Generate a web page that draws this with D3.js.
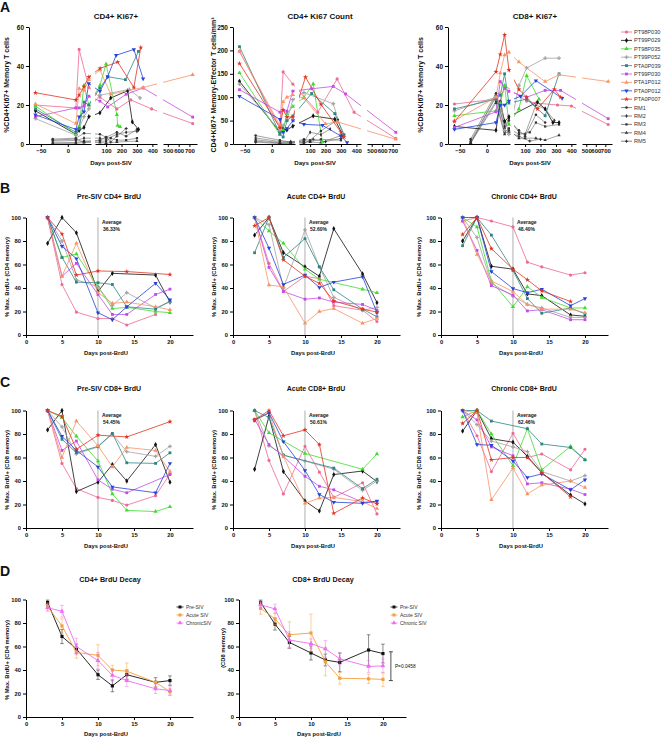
<!DOCTYPE html>
<html>
<head>
<meta charset="utf-8">
<script src="https://cdn.jsdelivr.net/npm/d3@7"></script>
<style>
  body { margin: 0; background: #fff; }
  svg { font-family: "Liberation Sans", Arial, sans-serif; }
</style>
</head>
<body>
<div id="chart"></div>
<script>
// ---------- data ----------
const animals = ["PT98P030", "PT99P029", "PT98P035", "PT99P052", "PTA0P039", "PT99P030", "PTA1P012", "PTA0P012", "PTA0P007", "RM1", "RM2", "RM3", "RM4", "RM5"];
const animalColors = ["#ec6a93", "#111111", "#3fdc2f", "#a3a3a3", "#2f8585", "#c54ce6", "#f79365", "#2543d8", "#e2331f", "#333333", "#333333", "#333333", "#333333", "#333333"];
const animalSymbols = ["circle", "diamond", "triangle", "cross", "square", "square", "triangle", "triangleDown", "star", "circle", "diamond", "square", "triangle", "cross"];

// panel A : [day post-SIV, value] per animal (same order as animals)
const ki67CD4Pct = [
  [[-60, 20], [15, 18.5], [21, 48.5], [39, 29], [60, 24], [170, 18], [260, 22.6], [395, 18], [730, 10.5]],
  [[-60, 17], [15, 5], [21, 7], [30, 8.5], [39, 14], [60, 16], [130, 23.6], [240, 27.3], [270, 11.3], [310, 7.5]],
  [[-60, 19.5], [15, 5], [21, 9], [30, 30], [39, 20], [60, 30], [100, 41], [170, 15], [175, 9.5], [190, 8.8]],
  [[-60, 13], [15, 4.5], [21, 8], [30, 14], [39, 18], [60, 25], [250, 28], [320, 23.6]],
  [[-60, 18], [15, 6], [21, 8], [30, 21.5], [39, 20], [60, 28.6], [110, 34.5], [225, 33], [310, 47.5]],
  [[-60, 14], [15, 18.5], [21, 18.5], [30, 19.5], [39, 24.5], [60, 22], [110, 19], [230, 25.5], [340, 28.7], [730, 13.8]],
  [[-60, 20.5], [15, 10.5], [21, 28.5], [30, 27.5], [39, 33], [60, 38], [130, 25.5], [340, 29], [730, 35.5]],
  [[-60, 15], [15, 7.5], [21, 14], [30, 16.5], [39, 31], [60, 27], [110, 34.5], [165, 45.5], [280, 48.5], [340, 33.5]],
  [[-60, 26.3], [15, 22.6], [21, 25], [30, 29.5], [39, 34.4], [61, 38.8], [175, 42], [280, 29], [325, 49.5]],
  [[-28, 2.5], [15, 3], [30, 5.5], [60, 5], [100, 3.5], [170, 6], [230, 4], [300, 7.5]],
  [[-28, 1.5], [15, 1.8], [30, 3], [60, 3], [100, 2.5], [170, 5], [230, 6], [300, 6.5]],
  [[-28, 0.6], [15, 0.8], [30, 1.5], [60, 1.5], [100, 1.5], [130, 3], [170, 2], [230, 2], [300, 3]],
  [[-28, 0.3], [15, 0.3], [30, 0.8], [60, 0.8], [100, 0.5], [170, 1], [300, 1.5]],
  [[-28, 2], [15, 2.5], [30, 1], [60, 2], [100, 3.5], [130, 1], [170, 4], [230, 8]]
];
const ki67CD4Count = [
  [[-60, 198], [15, 35], [21, 154], [39, 128], [150, 68], [275, 139], [385, 68], [730, 12]],
  [[-60, 134], [15, 25], [21, 32], [28, 30], [39, 38], [120, 60], [260, 53], [310, 20]],
  [[-60, 152], [15, 20], [21, 30], [28, 65], [39, 80], [60, 100], [120, 128], [180, 4]],
  [[-60, 128], [15, 28], [21, 40], [28, 50], [39, 95], [60, 110], [250, 86], [310, 22]],
  [[-60, 208], [15, 22], [21, 15], [28, 50], [39, 60], [110, 108], [260, 65], [320, 20]],
  [[-60, 116], [15, 68], [21, 72], [28, 70], [39, 113], [110, 118], [250, 123], [330, 107], [730, 25]],
  [[-60, 198], [15, 40], [21, 90], [28, 100], [39, 105], [60, 98], [200, 43], [280, 47], [730, 10]],
  [[-60, 102], [15, 53], [21, 25], [28, 33], [39, 50], [60, 42], [180, 40], [300, 17], [340, 3]],
  [[-60, 172], [15, 35], [21, 73], [28, 58], [39, 57], [70, 143], [170, 85], [300, 25], [320, 15]],
  [[-30, 18], [15, 8], [35, 4], [60, 10], [100, 8], [170, 28], [280, 52]],
  [[-30, 13], [15, 5], [35, 5], [60, 5], [100, 25], [170, 20], [230, 32]],
  [[-30, 9], [15, 3], [35, 2], [60, 3], [100, 5], [170, 10], [300, 8]],
  [[-30, 6], [15, 2], [35, 1], [60, 8], [100, 4], [170, 3], [300, 18]],
  [[-30, 4], [15, 1], [35, 3], [60, 2], [120, 10], [200, 5], [300, 12]]
];
const ki67CD8Pct = [
  [[-60, 20.5], [17, 23], [25, 22], [33, 30], [110, 22], [170, 21], [310, 20], [400, 19.5], [730, 10]],
  [[-60, 9], [17, 7], [25, 21.5], [33, 11.5], [41, 14], [180, 21.5], [230, 18], [280, 11], [320, 11]],
  [[-60, 14.5], [17, 17], [25, 21], [33, 30], [41, 10], [60, 18], [110, 35], [190, 23]],
  [[-60, 17], [17, 24], [25, 26], [33, 7], [41, 5], [60, 30], [110, 39], [230, 44], [320, 44]],
  [[-60, 18], [17, 23], [25, 25], [33, 36], [41, 21], [110, 23], [230, 14.5], [320, 36]],
  [[-60, 8.5], [17, 16.5], [25, 32], [33, 28.5], [41, 27], [110, 24], [230, 27.5], [330, 27.5], [730, 13]],
  [[-60, 12], [17, 24], [25, 36.4], [33, 45.7], [41, 47], [60, 42], [230, 32], [320, 35.5], [730, 32]],
  [[-60, 7.5], [17, 11], [25, 20], [33, 20], [41, 22], [70, 24.5], [170, 32.5], [340, 23.5]],
  [[-60, 11.5], [17, 37], [25, 46], [33, 56], [41, 38], [60, 28], [110, 24], [180, 18], [290, 28], [330, 24]],
  [[-30, 2.5], [17, 26], [33, 8], [41, 12], [60, 7], [100, 4], [170, 15], [230, 11]],
  [[-30, 1.5], [17, 24], [33, 9], [41, 13], [60, 6], [100, 5], [170, 20], [230, 18], [290, 12]],
  [[-30, 1], [17, 22], [33, 6], [41, 8], [60, 5], [130, 6], [170, 11], [230, 9], [320, 10]],
  [[-30, 0.5], [17, 21], [33, 5], [41, 7], [60, 3], [100, 3], [170, 3], [230, 2], [320, 4.5]],
  [[-30, 0.2], [17, 25], [33, 12], [41, 6], [60, 4], [130, 1.5], [200, 2.5]]
];

// panels B, C : % max BrdU+ at these days, one row per animal (first 9 animals)
const brduDays = [3, 5, 7, 10, 12, 14, 18, 20];
const preCD4 = [
  [100, 43, 19.5, 14, 14, 8.5, 17.5, null],
  [78, 100, 87, 37, 52.5, null, 51, 28],
  [100, 66, 69, 41, 22.5, 23.5, 20, 19],
  [100, 80, 47, 41, 25, 36, 23, 28],
  [100, 66, 45, 44.5, 43, 24, 22, 29],
  [100, 50, 61, 34.5, 17.5, 17.5, 34.5, 39],
  [100, 50, 78, 36, 27, 28, 24, 21.5],
  [100, 75.5, 65, 19, 13, 24, 44, 30],
  [100, 86, 51, 54.5, null, 54, null, 51.5]
];
const acuteCD4 = [
  [100, 61, 37, 50, 48, 25, 21, 11.5],
  [85, 100, 70, 58, 50, 90.5, 52, 27.5],
  [100, 88.5, 78, 56, 47.5, null, 39, 36],
  [100, 94, 40, 89.5, 58, 32, 21, 23.5],
  [70, 100, 66, 82, 58, 38.5, 22, 15.5],
  [100, 57.5, 37, 30.5, 31.5, 28, 26, 21],
  [100, 42.5, 41, 10, 20, 22.5, 10, 14],
  [100, 74, 43, 51, 40.5, 45, 49.5, 19],
  [93, 100, 64, 50, 44, 29, 22, 19.5]
];
const chronicCD4 = [
  [97, 100, 97, 92, 62, 58, 51, 53],
  [80, 100, 58.5, 56, 35, 33.5, 17, 16],
  [100, 92, 46, 24, 41, 32, 23, 23],
  [100, 83, 44, 33, 26, 23, 15, 15],
  [76, 100, 85, 55, 31, 18.5, 23, 18],
  [97, 72, 42, 34, 20.5, 21.5, 13, 13],
  [100, 68.5, 46, 37, 26, 22, 22, 19],
  [100, 100, 54, 39.5, 36, 39, 25, 31],
  [85.5, 100, 73.5, 56, 47, 37.5, 28.5, null]
];
const preCD8 = [
  [100, 55, 33.5, 26, 23.5, 19.5, 27.5, 46],
  [83.5, 100, 31, 39, 54, 40, 71, 39],
  [100, 94, 78, 57, 29, 15, 14, 18],
  [100, 86, 63, 69, 80, 65, 61, 69.5],
  [100, 75.5, 64, 69.5, 80.5, 55.5, 55, 64],
  [100, 66, 74, 41, 33, 30, null, 45.5],
  [100, 60, 91, 70, 52, 68.5, 66, 48],
  [100, 78, 66, 52, 35, null, 30, 55],
  [100, 95, 67, 79, null, 77.5, null, 90.5]
];
const acuteCD8 = [
  [100, 57.5, 29, 69.5, 47.5, 26, 38.5, 12],
  [50, 95, 48, 23, 14.5, 45.5, 48.5, 39.5],
  [100, 81, null, 63.5, null, null, 50, 63],
  [100, 70, 62, 57, null, 50, 32, 40],
  [100, 94, 62, null, null, 51, 33.5, 41.5],
  [92.5, 71, 61, 44, 35.5, 32.5, 22, 22.5],
  [91, 98, 61, 21, 25.5, 26, 22.5, 16.5],
  [92, 98, 73.5, 49, 28.5, 22, 21, 23],
  [92, 100, 78.5, 83.5, 71, 12.5, 25.5, 20.5]
];
const chronicCD8 = [
  [100, 78.5, 48, 80.5, 60, 63, 49.5, 67],
  [82.5, 100, 76, 73, 61, 47, 28, 20.5],
  [94.5, 100, 80, 53, 84.5, 49.5, 69.5, 58],
  [100, 88, 74, 69, 65, 48, 40, 44.5],
  [100, 100, 91, null, 84.5, 71.5, 68.5, 58],
  [100, 92, 69, 61.5, 37.5, 38.5, 33, 28.5],
  [100, 98, 24, 51, 29, 36.5, 40, 34.5],
  [100, 71, 70.5, 57, 43, 46, 32.5, 41],
  [89, 100, 58, 60, 60, 47, 26.5, null]
];

// panel D : mean and error per phase
const phases = ["Pre-SIV", "Acute SIV", "Chronic SIV"];
const phaseColors = ["#111111", "#f3a03c", "#ee6ef0"];
const phaseSymbols = ["square", "square", "triangle"];
const decayCD4Mean = [
  [97.5, 68.5, 58, 36, 26.5, 36, 29.5, 31],
  [94, 77.5, 55, 52.5, 40, 39, 29.5, 21.5],
  [93, 90, 60, 48, 35.5, 31, 24, 22.5]
];
const decayCD4Err = [
  [2, 6, 4, 4, 5, 4, 4, 4],
  [3, 6, 5, 9, 4, 7, 4, 3],
  [3, 5, 7, 7, 5, 5, 4, 4]
];
const decayCD8Mean = [
  [97.5, 79, 63.5, 54.5, 48.5, 46.5, 57, 54],
  [92.5, 83.5, 70, 71.5, 47, 33, 32.5, 32],
  [95.5, 92, 65.5, 62.5, 58, 49.5, 43, 43.5]
];
const decayCD8Err = [
  [2, 5, 5, 6, 5, 8, 13, 8],
  [5, 5, 11, 16, 12, 5, 4, 6],
  [3, 4, 7, 4, 7, 5, 5, 6]
];

// ---------- drawing ----------
const FONT = '"Liberation Sans", Arial, sans-serif';
const svg = d3.select("#chart").append("svg")
  .attr("width", 664).attr("height", 739)
  .style("background", "#fff");

function symbolPath(type, size) {
  let t = d3.symbolCircle;
  if (type === "square") t = d3.symbolSquare;
  if (type === "diamond") t = d3.symbolDiamond;
  if (type === "triangle" || type === "triangleDown") t = d3.symbolTriangle;
  if (type === "cross") t = d3.symbolCross;
  if (type === "star") t = d3.symbolStar;
  return d3.symbol().type(t).size(size)();
}

function drawMarkers(g, pts, type, color, size) {
  g.selectAll(null).data(pts).enter().append("path")
    .attr("d", symbolPath(type, size))
    .attr("transform", d => `translate(${d[0]},${d[1]}) rotate(${type === "triangleDown" ? 180 : 0})`)
    .attr("fill", color);
}

function styleAxis(sel, fs) {
  sel.attr("font-family", FONT);
  sel.select(".domain").attr("stroke", "#000").attr("stroke-width", 1);
  sel.selectAll(".tick line").attr("stroke", "#000");
  sel.selectAll(".tick text").attr("fill", "#111").attr("font-size", fs).attr("font-weight", "bold");
}

function text(x, y, str, opts) {
  const t = svg.append("text").attr("x", x).attr("y", y).text(str)
    .attr("font-size", opts.size).attr("font-weight", opts.weight || "bold")
    .attr("text-anchor", opts.anchor || "middle").attr("fill", opts.fill || "#111");
  return t;
}

function yLabel(x, cy, str, size) {
  svg.append("text")
    .attr("transform", `translate(${x},${cy}) rotate(-90)`)
    .attr("dy", "0.35em")
    .attr("text-anchor", "middle")
    .attr("font-size", size).attr("font-weight", "bold").attr("fill", "#111")
    .text(str);
}

// panel letters
[["A", 12], ["B", 193], ["C", 387], ["D", 576]].forEach(([l, yy]) => {
  text(0, yy, l, { size: 14, anchor: "start" });
});

// ---- Panel A : broken x axis ----
function ki67Panel(cfg) {
  const top = 27, bottom = 144;
  const segs = [
    { d: [-72, 43], r: [0, 62], ticks: [-50, 0] },
    { d: [28, 430], r: [66, 128], ticks: [100, 200, 300, 400] },
    { d: [455, 770], r: [134, cfg.w], ticks: [500, 600, 700] }
  ];
  const sx = segs.map(s => d3.scaleLinear().domain(s.d).range([cfg.x0 + s.r[0], cfg.x0 + s.r[1]]));
  const x = d => d <= 43 ? sx[0](d) : d <= 440 ? sx[1](d) : sx[2](d);
  const y = d3.scaleLinear().domain([0, cfg.yMax]).range([bottom, top]);

  const clipId = "clip" + cfg.id;
  const cp = svg.append("clipPath").attr("id", clipId);
  segs.forEach((s, i) => {
    cp.append("rect").attr("x", sx[i].range()[0]).attr("y", 0)
      .attr("width", sx[i].range()[1] - sx[i].range()[0]).attr("height", 160);
  });

  const line = d3.line().x(d => x(d[0])).y(d => y(d[1]));
  const lg = svg.append("g").attr("clip-path", `url(#${clipId})`);
  const mg = svg.append("g");
  // RM animals first (behind)
  const order = [9, 10, 11, 12, 13, 0, 1, 2, 3, 4, 5, 6, 7, 8];
  order.forEach(i => {
    const rm = i >= 9;
    lg.append("path").attr("d", line(cfg.data[i]))
      .attr("fill", "none")
      .attr("stroke", rm ? "#666" : animalColors[i])
      .attr("stroke-width", rm ? 0.6 : 0.8);
    drawMarkers(mg, cfg.data[i].map(d => [x(d[0]), y(d[1])]),
      animalSymbols[i], animalColors[i], rm ? 5 : 8);
  });

  const ya = svg.append("g").attr("transform", `translate(${cfg.x0},0)`)
    .call(d3.axisLeft(y).tickValues(cfg.yTicks).tickSize(3).tickSizeOuter(0).tickPadding(2));
  styleAxis(ya, 6.5);
  segs.forEach((s, i) => {
    const xa = svg.append("g").attr("transform", `translate(0,${bottom})`)
      .call(d3.axisBottom(sx[i]).tickValues(s.ticks).tickSize(3).tickSizeOuter(0).tickPadding(2));
    styleAxis(xa, 6);
  });

  text(cfg.x0 + 87, 19, cfg.title, { size: 8 });
  text(cfg.x0 + 82, 165, "Days post-SIV", { size: 6.2 });
  yLabel(cfg.labelX, 85, cfg.ylabel, 7);
}

ki67Panel({ id: "a1", x0: 29, w: 168, yMax: 60, yTicks: [0, 20, 40, 60], data: ki67CD4Pct,
  title: "CD4+ Ki67+", ylabel: "%CD4+Ki67+ Memory T cells", labelX: 7 });
ki67Panel({ id: "a2", x0: 233, w: 167, yMax: 250, yTicks: [0, 50, 100, 150, 200, 250], data: ki67CD4Count,
  title: "CD4+ Ki67 Count", ylabel: "CD4+Ki67+ Memory-Effector T cells/mm³", labelX: 214 });
ki67Panel({ id: "a3", x0: 448, w: 164, yMax: 60, yTicks: [0, 20, 40, 60], data: ki67CD8Pct,
  title: "CD8+ Ki67+", ylabel: "%CD8+Ki67+ Memory T cells", labelX: 421 });

// legend for panel A
const leg = svg.append("g");
animals.forEach((a, i) => {
  const yy = 32 + i * 8.4;
  const rm = i >= 9;
  leg.append("line").attr("x1", 621).attr("x2", 632).attr("y1", yy).attr("y2", yy)
    .attr("stroke", rm ? "#666" : animalColors[i]).attr("stroke-width", 0.8);
  drawMarkers(leg, [[626.5, yy]], animalSymbols[i], animalColors[i], rm ? 5 : 8);
  leg.append("text").attr("x", 634).attr("y", yy).attr("dy", "0.35em")
    .attr("font-size", 5.6).attr("fill", "#333").text(a);
});

// ---- Panels B, C ----
function brduPanel(cfg) {
  const x = d3.scaleLinear().domain([0, 23.2]).range([cfg.x0, cfg.x0 + 167]);
  const y = d3.scaleLinear().domain([0, 100]).range([cfg.bottom, cfg.bottom - 117.5]);
  svg.append("line").attr("x1", x(10)).attr("x2", x(10))
    .attr("y1", y(100)).attr("y2", y(0)).attr("stroke", "#999").attr("stroke-width", 0.8);
  const line = d3.line().x(d => x(d[0])).y(d => y(d[1]));
  const g = svg.append("g");
  cfg.data.forEach((row, i) => {
    const pts = brduDays.map((d, j) => [d, row[j]]).filter(p => p[1] !== null);
    g.append("path").attr("d", line(pts)).attr("fill", "none")
      .attr("stroke", animalColors[i]).attr("stroke-width", 0.8);
    drawMarkers(g, pts.map(p => [x(p[0]), y(p[1])]), animalSymbols[i], animalColors[i], 8);
  });
  const ya = svg.append("g").attr("transform", `translate(${cfg.x0},0)`)
    .call(d3.axisLeft(y).tickValues([0, 20, 40, 60, 80, 100]).tickSize(3).tickSizeOuter(0).tickPadding(2));
  styleAxis(ya, 5.8);
  const xa = svg.append("g").attr("transform", `translate(0,${cfg.bottom})`)
    .call(d3.axisBottom(x).tickValues([0, 5, 10, 15, 20]).tickSize(3).tickSizeOuter(0).tickPadding(2));
  styleAxis(xa, 5.8);

  text(x(10) + 4, y(95.6) + 1.8, "Average", { size: 5, anchor: "start" });
  text(x(10) + 5, y(90) + 1.8, cfg.avg, { size: 5, anchor: "start" });
  text(cfg.x0 + 83, cfg.titleY, cfg.title, { size: 7 });
  text(cfg.x0 + 80, cfg.bottom + 20, "Days post-BrdU", { size: 5.8 });
  yLabel(cfg.labelX, cfg.bottom - 58, cfg.ylabel, 5.8);
}

const cd4Label = "% Max. BrdU+ (CD4 memory)";
const cd8Label = "% Max. BrdU+ (CD8 memory)";
brduPanel({ x0: 26, bottom: 335, titleY: 199, data: preCD4, avg: "36.33%", title: "Pre-SIV CD4+ BrdU", ylabel: cd4Label, labelX: 7 });
brduPanel({ x0: 233, bottom: 335, titleY: 199, data: acuteCD4, avg: "52.60%", title: "Acute CD4+ BrdU", ylabel: cd4Label, labelX: 214 });
brduPanel({ x0: 441, bottom: 335, titleY: 199, data: chronicCD4, avg: "48.40%", title: "Chronic CD4+ BrdU", ylabel: cd4Label, labelX: 419 });
brduPanel({ x0: 26, bottom: 528, titleY: 391, data: preCD8, avg: "54.45%", title: "Pre-SIV CD8+ BrdU", ylabel: cd8Label, labelX: 7 });
brduPanel({ x0: 233, bottom: 528, titleY: 391, data: acuteCD8, avg: "50.61%", title: "Acute CD8+ BrdU", ylabel: cd8Label, labelX: 214 });
brduPanel({ x0: 441, bottom: 528, titleY: 391, data: chronicCD8, avg: "62.46%", title: "Chronic CD8+ BrdU", ylabel: cd8Label, labelX: 419 });

// ---- Panel D ----
function decayPanel(cfg) {
  const x = d3.scaleLinear().domain([0, 23.2]).range([cfg.x0, cfg.x0 + 167]);
  const y = d3.scaleLinear().domain([0, 100]).range([717, 717 - 117.5]);
  const line = d3.line().x(d => x(d[0])).y(d => y(d[1]));
  const g = svg.append("g");
  cfg.mean.forEach((row, i) => {
    const col = phaseColors[i];
    row.forEach((v, j) => {
      const e = cfg.err[i][j], xx = x(brduDays[j]);
      g.append("line").attr("x1", xx).attr("x2", xx).attr("y1", y(v - e)).attr("y2", y(v + e))
        .attr("stroke", col).attr("stroke-opacity", 0.6).attr("stroke-width", 0.8);
      [v - e, v + e].forEach(c => {
        g.append("line").attr("x1", xx - 1.8).attr("x2", xx + 1.8).attr("y1", y(c)).attr("y2", y(c))
          .attr("stroke", col).attr("stroke-opacity", 0.6).attr("stroke-width", 0.8);
      });
    });
    const pts = brduDays.map((d, j) => [d, row[j]]);
    g.append("path").attr("d", line(pts)).attr("fill", "none").attr("stroke", col).attr("stroke-width", 0.9);
    drawMarkers(g, pts.map(p => [x(p[0]), y(p[1])]), phaseSymbols[i], col, 10);
  });
  const ya = svg.append("g").attr("transform", `translate(${cfg.x0},0)`)
    .call(d3.axisLeft(y).tickValues([0, 20, 40, 60, 80, 100]).tickSize(3).tickSizeOuter(0).tickPadding(2));
  styleAxis(ya, 5.8);
  const xa = svg.append("g").attr("transform", `translate(0,717)`)
    .call(d3.axisBottom(x).tickValues([0, 5, 10, 15, 20]).tickSize(3).tickSizeOuter(0).tickPadding(2));
  styleAxis(xa, 5.8);

  // legend
  cfg.names.forEach((n, i) => {
    const yy = 607 + i * 8;
    svg.append("line").attr("x1", cfg.legX - 3.5).attr("x2", cfg.legX + 3.5).attr("y1", yy).attr("y2", yy)
      .attr("stroke", phaseColors[i]).attr("stroke-width", 0.8);
    drawMarkers(svg, [[cfg.legX, yy]], phaseSymbols[i], phaseColors[i], 9);
    svg.append("text").attr("x", cfg.legX + 6).attr("y", yy).attr("dy", "0.35em")
      .attr("font-size", 5).attr("fill", "#333").text(n);
  });

  text(cfg.x0 + 84, 582, cfg.title, { size: 7.2 });
  text(cfg.x0 + 80, 736, "Days post-BrdU", { size: 5.8 });
  yLabel(cfg.labelX, cfg.labelY, cfg.ylabel, 5.8);

  if (cfg.pText) {
    const bx = x(21.1);
    svg.append("line").attr("x1", bx).attr("x2", bx).attr("y1", y(55.5)).attr("y2", y(31))
      .attr("stroke", "#222").attr("stroke-width", 0.8);
    [55.5, 31].forEach(v => {
      svg.append("line").attr("x1", bx - 2).attr("x2", bx + 2).attr("y1", y(v)).attr("y2", y(v))
        .attr("stroke", "#222").attr("stroke-width", 0.8);
    });
    text(bx + 4, y(43) + 1.8, cfg.pText, { size: 4.8, anchor: "start", weight: "normal" });
  }
}

decayPanel({ x0: 26, mean: decayCD4Mean, err: decayCD4Err, title: "CD4+ BrdU Decay",
  names: ["Pre-SIV", "Acute SIV", "ChronicSIV"], legX: 180,
  ylabel: cd4Label, labelX: 7, labelY: 660 });
decayPanel({ x0: 239, mean: decayCD8Mean, err: decayCD8Err, title: "CD8+ BrdU Decay",
  names: phases, legX: 394,
  ylabel: "(CD8 memory)", labelX: 223, labelY: 648, pText: "P=0.0458" });
</script>
</body>
</html>
